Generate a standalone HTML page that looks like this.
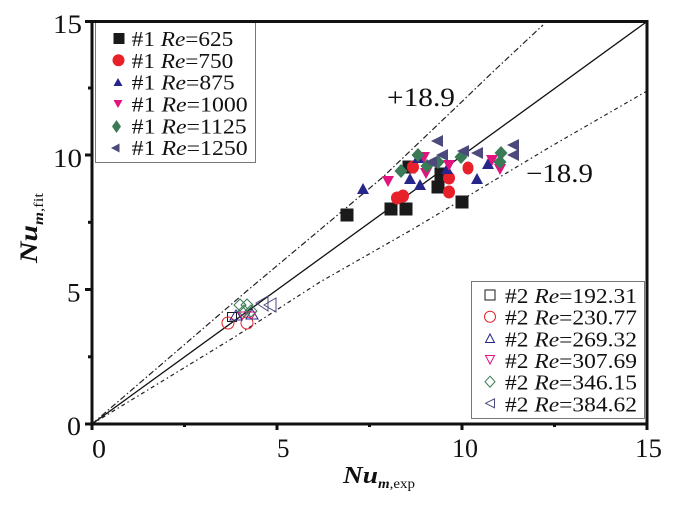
<!DOCTYPE html>
<html>
<head>
<meta charset="utf-8">
<style>
html,body{margin:0;padding:0;background:#fff;}
svg{display:block;}
text{font-family:"Liberation Serif","DejaVu Serif",serif;fill:#111;}
</style>
</head>
<body>
<svg width="697" height="513" viewBox="0 0 697 513" xmlns="http://www.w3.org/2000/svg">
<rect x="0" y="0" width="697" height="513" fill="#fff"/>

<!-- reference lines -->
<line x1="92" y1="424" x2="647" y2="21.5" stroke="#111" stroke-width="1.3"/>
<polyline points="92,424 248,290 383,177 450,113 497,68 543,25" fill="none" stroke="#222" stroke-width="1.2" stroke-dasharray="6 2.5 1.5 2.5"/>
<polyline points="92,424 233,338 320,282 413,229 550,147 647,91" fill="none" stroke="#222" stroke-width="1.2" stroke-dasharray="4 3 1.5 3"/>

<!-- filled markers: squares -->
<g fill="#1a1a1a">
<rect x="340.5" y="208.5" width="13" height="13"/>
<rect x="384.5" y="202.5" width="13" height="13"/>
<rect x="399.5" y="202.5" width="13" height="13"/>
<rect x="402.5" y="160.5" width="13" height="13"/>
<rect x="434.5" y="167.5" width="13" height="13"/>
<rect x="431.5" y="180.5" width="13" height="13"/>
<rect x="455.5" y="195.5" width="13" height="13"/>
</g>
<!-- red circles -->
<g fill="#e8202a">
<ellipse cx="397" cy="198" rx="6" ry="6.5"/>
<ellipse cx="403" cy="196" rx="6" ry="6.5"/>
<ellipse cx="413" cy="167" rx="6" ry="6.5"/>
<ellipse cx="449" cy="178" rx="6" ry="6.5"/>
<ellipse cx="449" cy="192" rx="6" ry="6.5"/>
<ellipse cx="468" cy="168" rx="5.5" ry="6.5"/>
</g>
<!-- blue up triangles -->
<g fill="#25258a">
<polygon points="357,194 369,194 363,183"/>
<polygon points="404,184 416,184 410,173"/>
<polygon points="414,190 426,190 420,179"/>
<polygon points="412,163 424,163 418,152"/>
<polygon points="441,174 453,174 447,163"/>
<polygon points="471,184 483,184 477,173"/>
<polygon points="482,169 494,169 488,158"/>
</g>
<!-- magenta down triangles -->
<g fill="#e2127f">
<polygon points="382,176 394,176 388,187"/>
<polygon points="418,152 430,152 424,163"/>
<polygon points="420,168 432,168 426,179"/>
<polygon points="443,160 455,160 449,171"/>
<polygon points="486,155 498,155 492,166"/>
<polygon points="494,164 506,164 500,175"/>
</g>
<!-- green diamonds -->
<g fill="#3b7a56">
<polygon points="401,164 407.5,171 401,178 394.5,171"/>
<polygon points="418,148 424.5,155 418,162 411.5,155"/>
<polygon points="427,159 433.5,166 427,173 420.5,166"/>
<polygon points="438,155 444.5,162 438,169 431.5,162"/>
<polygon points="461,150 467.5,157 461,164 454.5,157"/>
<polygon points="500,155 506.5,162 500,169 493.5,162"/>
<polygon points="501,146 507.5,153 501,160 494.5,153"/>
</g>
<!-- slate left triangles -->
<g fill="#4c4a7c">
<polygon points="431,141 443,135 443,147"/>
<polygon points="436,155 448,149 448,161"/>
<polygon points="425,162 437,156 437,168"/>
<polygon points="457,151 469,145 469,157"/>
<polygon points="471,153 483,147 483,159"/>
<polygon points="507,145 519,139 519,151"/>
<polygon points="507,155 519,149 519,161"/>
</g>

<!-- open markers cluster -->
<g fill="none" stroke-width="1">
<rect x="227.5" y="312.5" width="9" height="9" stroke="#1a1a1a"/>
<circle cx="228" cy="323" r="6" stroke="#e8202a"/>
<circle cx="247" cy="323" r="6" stroke="#e8202a"/>
<polygon points="230,320 242,320 236,310" stroke="#25258a"/>
<polygon points="246,319 258,319 252,309" stroke="#25258a"/>
<polygon points="238,312 247,312 242.5,319" stroke="#e2127f"/>
<polygon points="247,312 256,312 251.5,319" stroke="#e2127f"/>
<polygon points="240,299 246,305 240,311 234,305" stroke="#3b7a56"/>
<polygon points="247,299 253,305 247,311 241,305" stroke="#3b7a56"/>
<polygon points="244,305 250,311 244,317 238,311" stroke="#3b7a56"/>
<polygon points="251,305 257,311 251,317 245,311" stroke="#3b7a56"/>
<polygon points="256,303 268,296 268,311" stroke="#4c4a7c"/>
<polygon points="264,305 276,298 276,312" stroke="#4c4a7c"/>
</g>

<!-- annotations -->
<text x="387" y="106" font-size="26" textLength="68" lengthAdjust="spacingAndGlyphs">+18.9</text>
<text x="526" y="182" font-size="26" textLength="67" lengthAdjust="spacingAndGlyphs">−18.9</text>

<!-- legend 1 -->
<rect x="95.5" y="21.5" width="160" height="141" fill="#fff" stroke="#777" stroke-width="1"/>
<rect x="113.5" y="33" width="11" height="11" fill="#1a1a1a"/>
<circle cx="118.5" cy="60.3" r="6" fill="#e8202a"/>
<polygon points="113.5,86 122.5,86 118,78" fill="#25258a"/>
<polygon points="113.5,100 122.5,100 118,108" fill="#e2127f"/>
<polygon points="116.5,120 121,126.5 116.5,133 112,126.5" fill="#3b7a56"/>
<polygon points="111,148 119.5,143.5 119.5,152.5" fill="#4c4a7c"/>
<g font-size="21">
<text x="131.7" y="46" textLength="101.6" lengthAdjust="spacingAndGlyphs">#1 <tspan font-style="italic">Re</tspan>=625</text>
<text x="131.7" y="67.8" textLength="101.6" lengthAdjust="spacingAndGlyphs">#1 <tspan font-style="italic">Re</tspan>=750</text>
<text x="131.7" y="89.5" textLength="103" lengthAdjust="spacingAndGlyphs">#1 <tspan font-style="italic">Re</tspan>=875</text>
<text x="131.7" y="111.5" textLength="116" lengthAdjust="spacingAndGlyphs">#1 <tspan font-style="italic">Re</tspan>=1000</text>
<text x="131.7" y="133.3" textLength="115" lengthAdjust="spacingAndGlyphs">#1 <tspan font-style="italic">Re</tspan>=1125</text>
<text x="131.7" y="155" textLength="116" lengthAdjust="spacingAndGlyphs">#1 <tspan font-style="italic">Re</tspan>=1250</text>
</g>

<!-- legend 2 -->
<rect x="471.5" y="281.5" width="173" height="137" fill="#fff" stroke="#777" stroke-width="1"/>
<g fill="none" stroke-width="1">
<rect x="485" y="290" width="10" height="10" stroke="#1a1a1a"/>
<circle cx="490" cy="316.7" r="5.5" stroke="#e8202a"/>
<polygon points="485.5,342.5 494.5,342.5 490,334" stroke="#25258a"/>
<polygon points="485.5,355.5 494.5,355.5 490,364" stroke="#e2127f"/>
<polygon points="490,376.2 495,381.7 490,387.2 485,381.7" stroke="#3b7a56"/>
<polygon points="485.5,403.3 494.5,398.8 494.5,407.8" stroke="#4c4a7c"/>
</g>
<g font-size="21">
<text x="505" y="303" textLength="132" lengthAdjust="spacingAndGlyphs">#2 <tspan font-style="italic">Re</tspan>=192.31</text>
<text x="505" y="324.7" textLength="132" lengthAdjust="spacingAndGlyphs">#2 <tspan font-style="italic">Re</tspan>=230.77</text>
<text x="505" y="346.3" textLength="132" lengthAdjust="spacingAndGlyphs">#2 <tspan font-style="italic">Re</tspan>=269.32</text>
<text x="505" y="368" textLength="132" lengthAdjust="spacingAndGlyphs">#2 <tspan font-style="italic">Re</tspan>=307.69</text>
<text x="505" y="389.7" textLength="132" lengthAdjust="spacingAndGlyphs">#2 <tspan font-style="italic">Re</tspan>=346.15</text>
<text x="505" y="411.3" textLength="132" lengthAdjust="spacingAndGlyphs">#2 <tspan font-style="italic">Re</tspan>=384.62</text>
</g>

<!-- axes frame -->
<rect x="92" y="21.5" width="555" height="402.5" fill="none" stroke="#111" stroke-width="3"/>
<!-- y ticks -->
<g stroke="#111" stroke-width="3">
<line x1="85" y1="424" x2="92" y2="424"/>
<line x1="85" y1="289.5" x2="92" y2="289.5"/>
<line x1="85" y1="155" x2="92" y2="155"/>
<line x1="85" y1="21.5" x2="92" y2="21.5"/>
<line x1="88" y1="356.8" x2="92" y2="356.8"/>
<line x1="88" y1="222.3" x2="92" y2="222.3"/>
<line x1="88" y1="88" x2="92" y2="88"/>
<!-- x ticks -->
<line x1="92" y1="424" x2="92" y2="430"/>
<line x1="277" y1="424" x2="277" y2="430"/>
<line x1="462" y1="424" x2="462" y2="430"/>
<line x1="647" y1="424" x2="647" y2="430"/>
<line x1="184.5" y1="424" x2="184.5" y2="427"/>
<line x1="369.5" y1="424" x2="369.5" y2="427"/>
<line x1="554.5" y1="424" x2="554.5" y2="427"/>
</g>

<!-- tick labels -->
<g font-size="26">
<text x="53" y="33" textLength="29" lengthAdjust="spacingAndGlyphs">15</text>
<text x="53" y="167" textLength="29" lengthAdjust="spacingAndGlyphs">10</text>
<text x="67" y="301.5" textLength="13.5" lengthAdjust="spacingAndGlyphs">5</text>
<text x="67" y="435" textLength="14" lengthAdjust="spacingAndGlyphs">0</text>
<text x="92" y="457.5" textLength="14" lengthAdjust="spacingAndGlyphs">0</text>
<text x="277" y="457" textLength="12.5" lengthAdjust="spacingAndGlyphs">5</text>
<text x="452" y="457" textLength="26" lengthAdjust="spacingAndGlyphs">10</text>
<text x="635" y="457" textLength="27" lengthAdjust="spacingAndGlyphs">15</text>
</g>

<!-- axis titles -->
<text x="343" y="483" font-size="24" font-weight="bold" font-style="italic" textLength="35" lengthAdjust="spacingAndGlyphs">Nu</text>
<text x="378" y="488" font-size="14" textLength="37" lengthAdjust="spacingAndGlyphs"><tspan font-weight="bold" font-style="italic">m</tspan>,exp</text>

<text transform="translate(37,263) rotate(-90)" font-size="25" font-weight="bold" font-style="italic" textLength="38" lengthAdjust="spacingAndGlyphs">Nu</text>
<text transform="translate(43,225) rotate(-90)" font-size="14" textLength="32" lengthAdjust="spacingAndGlyphs"><tspan font-weight="bold" font-style="italic">m</tspan>,fit</text>
</svg>
</body>
</html>
